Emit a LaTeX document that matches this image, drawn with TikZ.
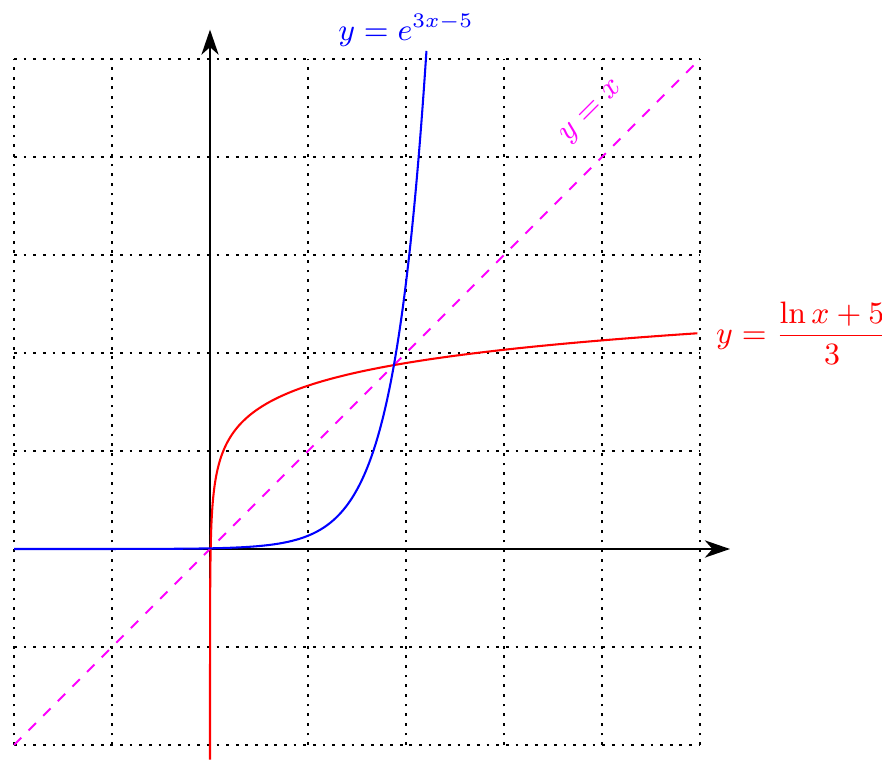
\documentclass[tikz,border=0pt]{standalone}
\usepackage{amsmath}
\usetikzlibrary{arrows.meta}
\definecolor{cblue}{RGB}{0,0,255}
\definecolor{cred}{RGB}{255,0,0}
\definecolor{cmag}{RGB}{255,0,255}
\begin{document}
\begin{tikzpicture}[x=1cm,y=1cm,
  gridline/.style={black,thick,dotted},
  axisline/.style={black,semithick,-{Stealth[length=7.3pt,width=5pt,inset=2.2pt]}},
  bluecurve/.style={cblue,semithick},
  redcurve/.style={cred,semithick},
  diagline/.style={cmag,semithick,dashed},
  lbl/.style={font=\fontsize{9}{11}\selectfont}]
\useasboundingbox (-2.143,-2.153) rectangle (6.857,5.602);
\draw[gridline] (-2,-2) grid (5,5);
\coordinate (xs) at (-2,0);
\coordinate (xe) at (5.306,0);
\coordinate (ys) at (0,-2);
\coordinate (ye) at (0,5.30);
\draw[axisline] (xs) -- (xe);
\draw[axisline] (ys) -- (ye);
\coordinate (ds) at (-2,-2);
\coordinate (de) at (5,5);
\draw[diagline] (ds) -- (de);
\draw[redcurve] plot[domain=-2.15:2.2031,samples=200,smooth] ({exp(3*\x-5)},\x);
\draw[bluecurve] plot[domain=-2:2.211,samples=200,smooth] (\x,{exp(3*\x-5)});
\coordinate (rend) at (5,2.2031);
\node[lbl,cred,anchor=west,inner sep=4.5pt] (rl) at (rend) {$y=\dfrac{\ln x+5}{3}$};
\node[lbl,cblue,anchor=base] (bl) at (2.0,5.19) {$y=e^{3x-5}$};
\node[lbl,cmag,rotate=45] (ml) at (3.9,4.45) {$y=x$};
\end{tikzpicture}
\end{document}
